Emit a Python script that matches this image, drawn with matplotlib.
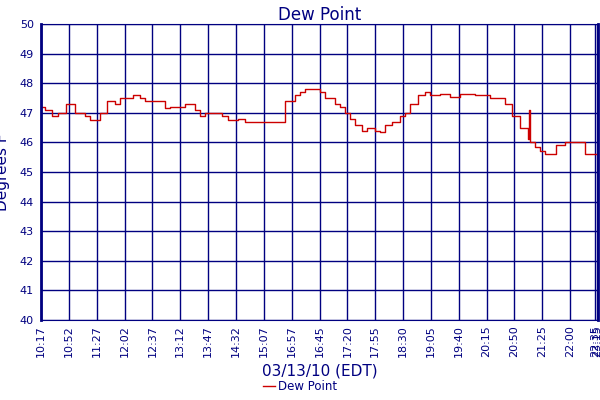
import matplotlib
matplotlib.use("Agg")
import matplotlib.pyplot as plt
import numpy as np

tick_labels = ["10:17","10:52","11:27","12:02","12:37","13:12","13:47","14:32","15:07","16:57",
               "16:45","17:20","17:55","18:30","19:05","19:40","20:15","20:50","21:25","22:00","22:35","23:15"]
tick_pos = list(range(20)) + [19.9, 19.98]

px = [41,45,52,58,66,72,75,85,90,97,100,107,115,120,125,133,140,145,160,165,170,180,185,195,200,205,215,
      222,228,235,238,245,283,285,295,300,305,315,320,325,335,340,345,350,355,362,367,375,380,385,392,400,
      405,410,418,425,430,440,450,460,475,490,500,505,512,520,528,529,530,535,540,545,552,556,565,582,585,595,598]
dew = [47.2,47.1,46.9,47.0,47.3,47.3,47.0,46.9,46.75,46.75,47.0,47.4,47.3,47.5,47.5,47.6,47.5,47.4,47.4,47.15,
       47.2,47.2,47.3,47.1,46.9,47.0,47.0,46.9,46.75,46.75,46.8,46.7,46.7,47.4,47.6,47.7,47.8,47.8,47.7,47.5,
       47.3,47.2,47.0,46.8,46.6,46.4,46.5,46.4,46.35,46.6,46.7,46.9,47.0,47.3,47.6,47.7,47.6,47.65,47.55,47.65,
       47.6,47.5,47.5,47.3,46.9,46.5,46.1,47.1,46.0,45.85,45.7,45.6,45.6,45.9,46.0,46.0,45.6,45.6,45.4]
pos = (np.array(px) - 41) / 27.85

navy = "#000080"
fig = plt.figure(figsize=(6, 4), dpi=100)
ax = fig.add_axes([41/600, 1-320/400, 557/600, 296/400])
ax.step(pos, dew, where="post", color="#cc0000", lw=1, label="Dew Point")
ax.set_xlim(0, 557/27.85)
ax.set_ylim(40, 50)
ax.set_yticks(range(40, 51))
ax.set_xticks(tick_pos)
ax.set_xticklabels(tick_labels, rotation=90, fontsize=8, color=navy)
ax.tick_params(axis="y", labelsize=8, labelcolor=navy, length=0, pad=5)
ax.tick_params(axis="x", length=0)
ax.grid(True, color=navy, lw=1)
for s in ax.spines.values():
    s.set_color(navy)
ax.spines["left"].set_linewidth(2)
ax.spines["right"].set_linewidth(2)
ax.set_axisbelow(True)
ax.set_title("Dew Point", color=navy, fontsize=12, pad=3)
ax.set_ylabel("Degrees F", color=navy, fontsize=11, labelpad=2)
ax.yaxis.set_label_coords(-0.055, 0.5)
ax.set_xlabel("03/13/10 (EDT)", color=navy, fontsize=11, labelpad=5)
fig.legend(loc="lower center", bbox_to_anchor=(0.5, -0.01), frameon=False, fontsize=8.5,
           labelcolor=navy, handlelength=1, handletextpad=0.3)
fig.savefig("out.png", dpi=100)
